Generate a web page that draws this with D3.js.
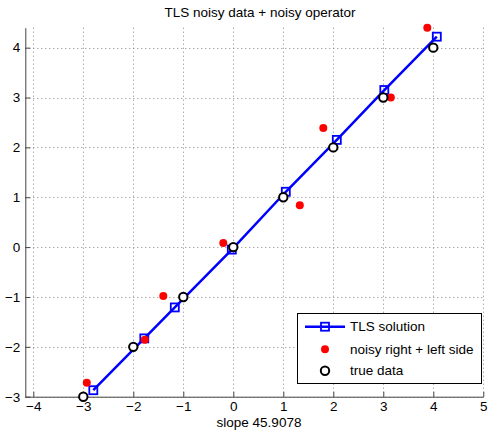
<!DOCTYPE html>
<meta charset="utf-8">
<script src="https://d3js.org/d3.v7.min.js"></script>
<style>
  body { margin: 0; background: #fff; }
  text { font-family: "Liberation Sans", Arial, sans-serif; }
</style>
<div id="chart"></div>
<script>
// Data
var trueX = [-3, -2, -1, 0, 1, 2, 3, 4];
var trueY = [-3, -2, -1, 0, 1, 2, 3, 4];
var noisyX = [-2.93, -1.77, -1.40, -0.20, 1.33, 1.80, 3.15, 3.88];
var noisyY = [-2.72, -1.86, -0.98, 0.08, 0.84, 2.39, 3.00, 4.40];
var tlsX = [-2.80, -1.78, -1.17, -0.03, 1.05, 2.07, 3.02, 4.07];
var tlsY = [-2.87, -1.83, -1.21, -0.05, 1.11, 2.15, 3.15, 4.22];
var xTicks = [-4, -3, -2, -1, 0, 1, 2, 3, 4, 5];
var yTicks = [-3, -2, -1, 0, 1, 2, 3, 4];
var legendLabels = ["TLS solution", "noisy right + left side", "true data"];

var W = 493, H = 431, FS = 13.5;
var x = d3.scaleLinear().domain([-4.16, 5]).range([25.3, 483.3]);
var y = d3.scaleLinear().domain([-3, 4.4]).range([396.7, 27.7]);

var svg = d3.select("#chart").append("svg")
    .attr("width", W).attr("height", H);

// grid
var grid = svg.append("g").attr("stroke", "#888").attr("stroke-width", 1)
    .attr("stroke-dasharray", "1,3");
grid.selectAll(".gx").data(xTicks).enter().append("line")
    .attr("x1", function(d) { return Math.round(x(d)) + 0.5; })
    .attr("x2", function(d) { return Math.round(x(d)) + 0.5; })
    .attr("y1", y(4.4)).attr("y2", y(-3));
grid.selectAll(".gy").data(yTicks).enter().append("line")
    .attr("y1", function(d) { return Math.round(y(d)) + 0.5; })
    .attr("y2", function(d) { return Math.round(y(d)) + 0.5; })
    .attr("x1", x(-4.16)).attr("x2", x(5));

// axes
var fmt = function(d) { return d < 0 ? "\u2212" + Math.abs(d) : "" + d; };
var gx = svg.append("g").attr("transform", "translate(0," + y(-3) + ")")
    .call(d3.axisBottom(x).tickValues(xTicks).tickFormat(fmt)
        .tickSizeInner(-5).tickSizeOuter(0).tickPadding(5));
var gy = svg.append("g").attr("transform", "translate(" + x(-4.16) + ",0)")
    .call(d3.axisLeft(y).tickValues(yTicks).tickFormat(fmt)
        .tickSizeInner(-5).tickSizeOuter(0).tickPadding(5));
[gx, gy].forEach(function(g) {
  g.select(".domain").attr("stroke", "#444");
  g.selectAll(".tick line").attr("stroke", "#444");
  g.selectAll("text").attr("font-size", FS).attr("fill", "#000")
    .attr("font-family", "Liberation Sans, Arial, sans-serif");
});

// TLS line
var tls = tlsX.map(function(d, i) { return [d, tlsY[i]]; });
svg.append("path").datum(tls)
    .attr("fill", "none").attr("stroke", "#0000ff").attr("stroke-width", 2.5)
    .attr("d", d3.line().x(function(d) { return x(d[0]); }).y(function(d) { return y(d[1]); }));
svg.selectAll(".sq").data(tls).enter().append("rect")
    .attr("x", function(d) { return x(d[0]) - 4; })
    .attr("y", function(d) { return y(d[1]) - 4; })
    .attr("width", 8).attr("height", 8)
    .attr("fill", "none").attr("stroke", "#0000ff").attr("stroke-width", 1.8);

// noisy points
svg.selectAll(".rd").data(noisyX).enter().append("circle")
    .attr("cx", function(d) { return x(d); })
    .attr("cy", function(d, i) { return y(noisyY[i]); })
    .attr("r", 4).attr("fill", "#ff0000");

// true data
svg.selectAll(".bk").data(trueX).enter().append("circle")
    .attr("cx", function(d) { return x(d); })
    .attr("cy", function(d, i) { return y(trueY[i]); })
    .attr("r", 4.2).attr("fill", "#fff").attr("stroke", "#000").attr("stroke-width", 2);

// title and label
svg.append("text").attr("x", 260).attr("y", 17).attr("text-anchor", "middle")
    .attr("font-size", FS).text("TLS noisy data + noisy operator");
svg.append("text").attr("x", 259).attr("y", 427).attr("text-anchor", "middle")
    .attr("font-size", FS).text("slope 45.9078");

// legend
var lg = svg.append("g");
lg.append("rect").attr("x", 297.5).attr("y", 313.5).attr("width", 184).attr("height", 70)
    .attr("fill", "#fff").attr("stroke", "#000").attr("stroke-width", 1);
var rows = [326.7, 349.3, 370.7];
lg.append("line").attr("x1", 305).attr("x2", 345).attr("y1", rows[0]).attr("y2", rows[0])
    .attr("stroke", "#0000ff").attr("stroke-width", 2.5);
lg.append("rect").attr("x", 321).attr("y", rows[0] - 4).attr("width", 8).attr("height", 8)
    .attr("fill", "none").attr("stroke", "#0000ff").attr("stroke-width", 1.8);
lg.append("circle").attr("cx", 325).attr("cy", rows[1]).attr("r", 4).attr("fill", "#ff0000");
lg.append("circle").attr("cx", 325).attr("cy", rows[2]).attr("r", 4.2)
    .attr("fill", "#fff").attr("stroke", "#000").attr("stroke-width", 2);
lg.selectAll(".lt").data(legendLabels).enter().append("text")
    .attr("x", 350).attr("y", function(d, i) { return rows[i] + 4.7; })
    .attr("font-size", FS).text(function(d) { return d; });
</script>
